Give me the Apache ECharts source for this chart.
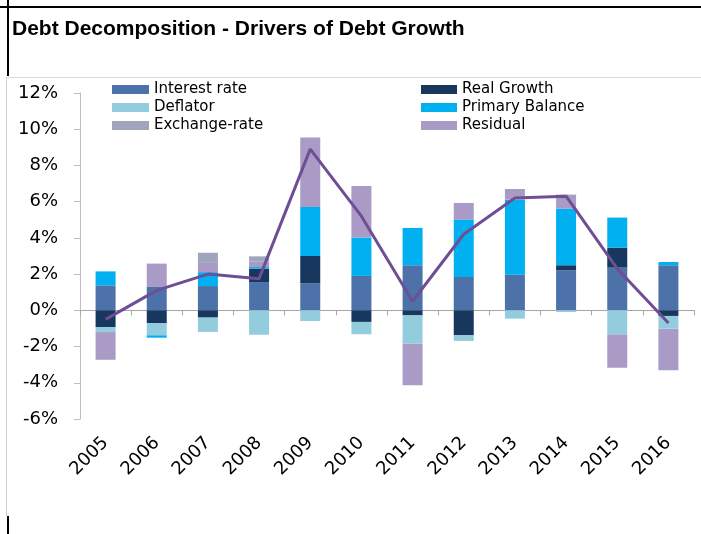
<!DOCTYPE html>
<html>
<head>
<meta charset="utf-8">
<script src="https://cdn.jsdelivr.net/npm/echarts@6/dist/echarts.min.js"></script>
<style>html,body{margin:0;padding:0;background:#fff;}#c{width:701px;height:534px;}</style>
</head>
<body>
<div id="c"></div>
<script>
const categories = ['2005','2006','2007','2008','2009','2010','2011','2012','2013','2014','2015','2016'];
const interestRate   = [1.38, 1.29, 1.34, 1.56, 1.49, 1.90, 2.49, 1.84, 1.97, 2.21, 2.36, 2.49];
const realGrowth     = [-0.92, -0.70, -0.40, 0.74, 1.51, -0.64, -0.28, -1.38, 0, 0.28, 1.10, -0.31];
const deflator       = [-0.28, -0.68, -0.79, -1.35, -0.59, -0.68, -1.56, -0.31, -0.46, -0.09, -1.33, -0.70];
const primaryBalance = [0.77, -0.13, 0.77, 0.09, 2.71, 2.12, 2.06, 3.17, 4.14, 3.13, 1.66, 0.18];
const residual       = [-1.53, 1.29, 0.55, 0.31, 3.83, 2.85, -2.30, 0.92, 0.59, 0.77, -1.84, -2.30];
const exchangeRate   = [0, 0, 0.52, 0.28, 0, 0, 0, 0, 0, 0, 0, 0];
const debtGrowth     = [-0.5, 1.1, 2.0, 1.75, 8.9, 5.2, 0.5, 4.2, 6.2, 6.3, 2.3, -0.7];

const chart = echarts.init(document.getElementById('c'), null, {renderer: 'canvas'});
const legendText = {fontFamily: 'DejaVu Sans', fontSize: 15, color: '#000', lineHeight: 17};
function bar(name, data, color) {
  return {name, type: 'bar', stack: 'd', data, barWidth: 20, itemStyle: {color}, emphasis: {disabled: true}};
}
chart.setOption({
  animation: false,
  backgroundColor: '#fff',
  title: {text: 'Debt Decomposition - Drivers of Debt Growth', left: 7, top: 14,
    textStyle: {fontFamily: 'Liberation Sans', fontWeight: 'bold', fontSize: 21, color: '#000'}},
  graphic: [
    {type: 'line', shape: {x1: 0, y1: 7, x2: 701, y2: 7}, style: {stroke: '#000', lineWidth: 2}},
    {type: 'line', shape: {x1: 8, y1: 0, x2: 8, y2: 76}, style: {stroke: '#000', lineWidth: 2}},
    {type: 'line', shape: {x1: 7, y1: 77.5, x2: 701, y2: 77.5}, style: {stroke: '#d9d9d9', lineWidth: 1}},
    {type: 'line', shape: {x1: 6.5, y1: 77, x2: 6.5, y2: 516}, style: {stroke: '#d0d0d0', lineWidth: 1}},
    {type: 'line', shape: {x1: 8, y1: 516, x2: 8, y2: 534}, style: {stroke: '#000', lineWidth: 2}}
  ],
  legend: [
    {left: 112, top: 81, padding: 0, orient: 'vertical', itemWidth: 37, itemHeight: 9, itemGap: 1, icon: 'rect',
     data: ['Interest rate', 'Deflator', 'Exchange-rate'], textStyle: legendText, selectedMode: false},
    {left: 421, top: 81, padding: 0, orient: 'vertical', itemWidth: 36, itemHeight: 9, itemGap: 1, icon: 'rect',
     data: ['Real Growth', 'Primary Balance', 'Residual'], textStyle: legendText, selectedMode: false}
  ],
  grid: {left: 80, right: 7, top: 93, bottom: 115, containLabel: false},
  xAxis: [
    {type: 'category', data: categories, boundaryGap: true,
     axisLine: {onZero: true, lineStyle: {color: '#a6a6a6', width: 1}},
     axisTick: {show: true, length: 5, lineStyle: {color: '#a6a6a6'}},
     axisLabel: {show: false}},
    {type: 'category', data: categories, position: 'bottom', boundaryGap: true,
     axisLine: {show: false, onZero: false}, axisTick: {show: false},
     axisLabel: {rotate: 45, margin: 21, fontFamily: 'DejaVu Sans', fontSize: 18, color: '#000', interval: 0}}
  ],
  yAxis: {type: 'value', min: -6, max: 12, interval: 2,
    axisLine: {show: true, lineStyle: {color: '#bfbfbf'}},
    axisTick: {show: true, length: 6, lineStyle: {color: '#bfbfbf'}},
    splitLine: {show: false},
    axisLabel: {formatter: '{value}%', margin: 22, fontFamily: 'DejaVu Sans', fontSize: 18, color: '#000'}},
  series: [
    bar('Interest rate', interestRate, '#4c72a9'),
    bar('Real Growth', realGrowth, '#17375e'),
    bar('Deflator', deflator, '#93cddd'),
    bar('Primary Balance', primaryBalance, '#00b0f0'),
    bar('Residual', residual, '#a99bc6'),
    bar('Exchange-rate', exchangeRate, '#9fa5bd'),
    {name: 'Debt growth', type: 'line', data: debtGrowth, symbol: 'none', z: 10,
     lineStyle: {color: '#6e4e94', width: 3}, itemStyle: {color: '#6e4e94'}}
  ]
});
</script>
</body>
</html>
